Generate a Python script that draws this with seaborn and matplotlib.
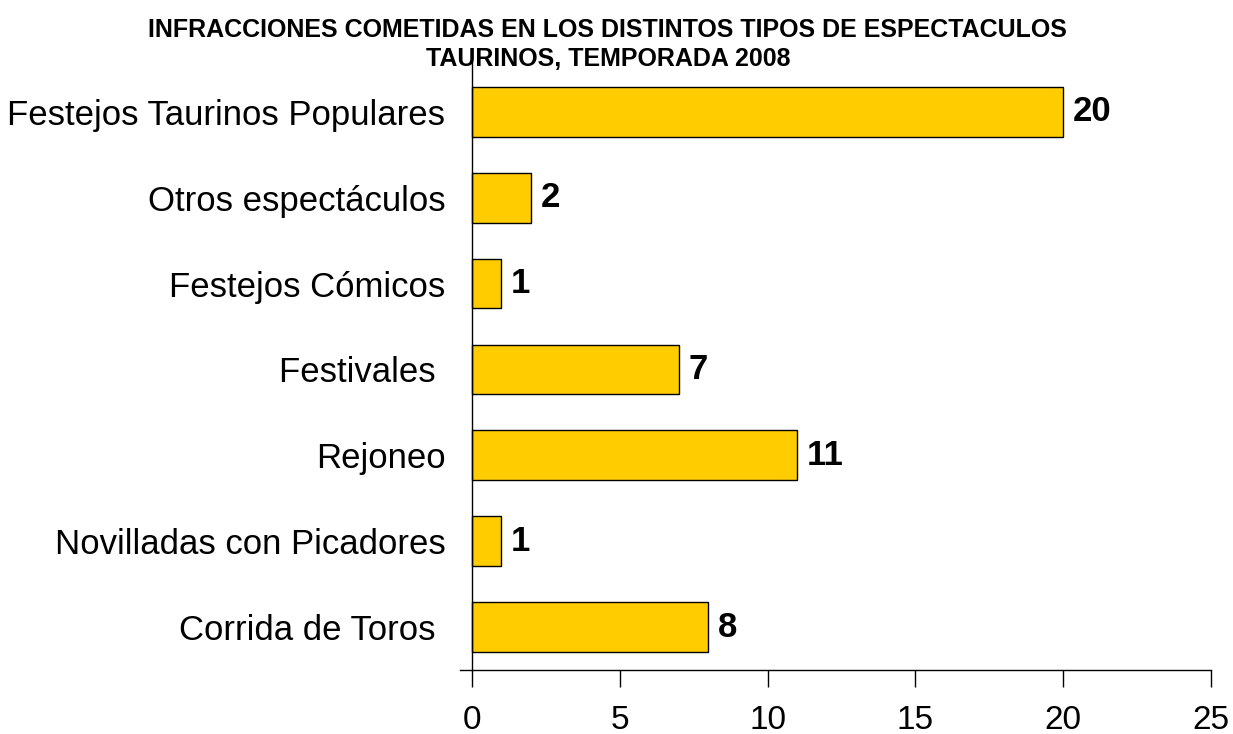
import numpy as np
import pandas as pd
import matplotlib
matplotlib.use('Agg')
import matplotlib.pyplot as plt
import seaborn as sns

categorias = ['Festejos Taurinos Populares', 'Otros espectáculos', 'Festejos Cómicos',
              'Festivales ', 'Rejoneo', 'Novilladas con Picadores', 'Corrida de Toros ']
infracciones = [20, 2, 1, 7, 11, 1, 8]
xticks = [0, 5, 10, 15, 20, 25]

sns.set_style('white')
plt.rcParams['font.family'] = ['Liberation Sans', 'DejaVu Sans']
plt.rcParams['text.color'] = 'black'
plt.rcParams['xtick.color'] = 'black'
plt.rcParams['ytick.color'] = 'black'

fig = plt.figure(figsize=(12.33, 7.34), dpi=100)
ax = fig.add_axes([0.3731, 0.0872, 0.9822 - 0.3731, 0.9155 - 0.0872])

df = pd.DataFrame({'cat': categorias, 'n': infracciones})
sns.barplot(data=df, x='n', y='cat', color='#FFCC00', saturation=1,
            edgecolor='black', linewidth=1, width=0.58, ax=ax)

ax.bar_label(ax.containers[0], labels=[str(v) for v in infracciones],
             padding=7, fontsize=25, fontweight='bold', color='black')

ax.set_xlim(-0.4, 25)
ax.set_ylim(6.5, -0.58)
ax.set_xticks(xticks)
ax.set_xlabel('')
ax.set_ylabel('')

for s in ['top', 'right']:
    ax.spines[s].set_visible(False)
ax.spines['left'].set_position(('data', 0))
for s in ['left', 'bottom']:
    ax.spines[s].set_color('black')
    ax.spines[s].set_linewidth(1)

ax.tick_params(axis='x', direction='out', length=12, width=1, color='black',
               labelsize=24, pad=13, bottom=True, labelcolor='black')
ax.tick_params(axis='y', length=0, labelsize=25, pad=19, labelcolor='black')

fig.text(0.493, 0.939, 'INFRACCIONES COMETIDAS EN LOS DISTINTOS TIPOS DE ESPECTACULOS\nTAURINOS, TEMPORADA 2008',
         ha='center', va='center', fontsize=18, fontweight='bold', linespacing=1.25)

fig.savefig('out.png', dpi=100)
plt.close(fig)
